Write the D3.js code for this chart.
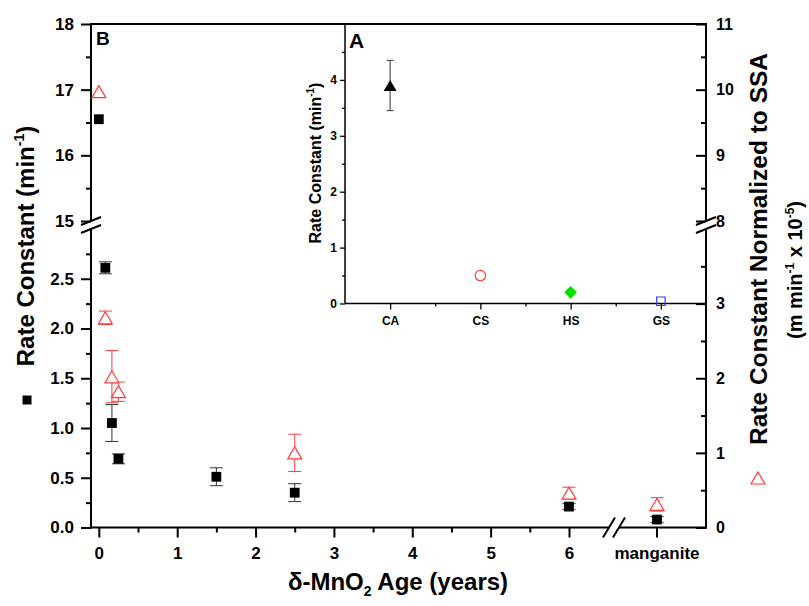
<!DOCTYPE html>
<html>
<head>
<meta charset="utf-8">
<script src="https://cdn.jsdelivr.net/npm/d3@7"></script>
<style>
  body { margin: 0; background: #fff; }
  svg { font-family: "Liberation Sans", Arial, sans-serif; font-weight: bold; }
</style>
</head>
<body>
<svg id="chart" width="809" height="606"></svg>
<script>
// Panel B: rate constant vs d-MnO2 age (last point is manganite)
const xKeys    = [0, 0.083, 0.167, 0.25, 1.5, 2.5, 6, "manganite"];
const rateVals = [16.55, 2.61, 1.05, 0.69, 0.51, 0.35, 0.21, 0.08];
const rateErr  = [0, 0.06, 0.185, 0.05, 0.09, 0.09, 0.03, 0.03];
// normalized to SSA (right axis), no value at 1.5 years
const normVals = [9.97, 2.81, 2.02, 1.82, null, 1.0, 0.46, 0.31];
const normErr  = [0, 0.09, 0.35, 0.13, null, 0.25, 0.08, 0.09];

// Panel A (inset)
const insetCats = ["CA", "CS", "HS", "GS"];
const insetVals = [3.9, 0.5, 0.2, 0.04];
const insetErr  = [0.45, 0, 0, 0];

// tick values
const leftHiMajor = [15, 16, 17, 18], leftHiMinor = [15.5, 16.5, 17.5];
const leftLoMajor = [0, 0.5, 1, 1.5, 2, 2.5], leftLoMinor = [0.25, 0.75, 1.25, 1.75, 2.25, 2.75];
const rightHiMajor = [8, 9, 10, 11], rightHiMinor = [8.5, 9.5, 10.5];
const rightLoMajor = [0, 1, 2, 3], rightLoMinor = [0.5, 1.5, 2.5, 3.5];
const ageMajor = [0, 1, 2, 3, 4, 5, 6], ageMinor = [0.5, 1.5, 2.5, 3.5, 4.5, 5.5];
const insetYMajor = [0, 1, 2, 3, 4], insetYMinor = [0.5, 1.5, 2.5, 3.5, 4.5];
const insetXMinor = [1.5, 2.5, 3.5];

const svg = d3.select("#chart");
const L = 91, R = 706, T = 24, B = 527.5;
const brkY1 = 221, brkY2 = 229;   // y-axis break
const brkX1 = 609, brkX2 = 619;   // x-axis break
const RED = "#ff3b3b";

// broken scales
const yLhi = d3.scaleLinear().domain([15, 18]).range([brkY1, T]);
const yLlo = d3.scaleLinear().domain([0, 3]).range([B, brkY2]);
const yRhi = d3.scaleLinear().domain([8, 11]).range([brkY1, T]);
const yRlo = d3.scaleLinear().domain([0, 4]).range([B, brkY2]);
const xA = d3.scaleLinear().domain([-0.1, 6.6]).range([L, 616]);
const xM = d3.scaleBand().domain(["manganite"]).range([brkX2, 695]);

const px = k => k === "manganite" ? xM(k) + xM.bandwidth() / 2 : xA(k);
const yL = v => v >= 15 ? yLhi(v) : yLlo(v);
const yR = v => v >= 8 ? yRhi(v) : yRlo(v);

// axis helper
function addAxis(axis, tx, ty, fsize, sw) {
  const g = svg.append("g")
    .attr("transform", `translate(${tx},${ty})`)
    .call(axis)
    .attr("font-family", null)
    .attr("font-size", fsize);
  g.select(".domain").remove();
  g.selectAll(".tick line").attr("stroke-width", sw);
  g.selectAll(".tick text").attr("fill", "#000");
  return g;
}

// left axis
addAxis(d3.axisLeft(yLhi).tickValues(leftHiMajor).tickSize(10).tickPadding(7).tickFormat(d3.format("d")), L, 0, 17, 2);
addAxis(d3.axisLeft(yLhi).tickValues(leftHiMinor).tickSize(5).tickFormat(""), L, 0, 17, 2);
addAxis(d3.axisLeft(yLlo).tickValues(leftLoMajor).tickSize(10).tickPadding(7).tickFormat(d3.format(".1f")), L, 0, 17, 2);
addAxis(d3.axisLeft(yLlo).tickValues(leftLoMinor).tickSize(5).tickFormat(""), L, 0, 17, 2);

// right axis (ticks inward)
addAxis(d3.axisRight(yRhi).tickValues(rightHiMajor).tickSize(-10).tickPadding(10).tickFormat(d3.format("d")), R, 0, 16, 2);
addAxis(d3.axisRight(yRhi).tickValues(rightHiMinor).tickSize(-5).tickFormat(""), R, 0, 16, 2);
addAxis(d3.axisRight(yRlo).tickValues(rightLoMajor).tickSize(-10).tickPadding(10).tickFormat(d3.format("d")), R, 0, 16, 2);
addAxis(d3.axisRight(yRlo).tickValues(rightLoMinor).tickSize(-5).tickFormat(""), R, 0, 16, 2);

// bottom axis
addAxis(d3.axisBottom(xA).tickValues(ageMajor).tickSize(10).tickPadding(9).tickFormat(d3.format("d")), 0, B, 17, 2);
addAxis(d3.axisBottom(xA).tickValues(ageMinor).tickSize(5).tickFormat(""), 0, B, 17, 2);
addAxis(d3.axisBottom(xM).tickSize(10).tickPadding(9), 0, B, 17, 2);

// frame with breaks
const frame = svg.append("g").attr("stroke", "#000").attr("stroke-width", 2).attr("fill", "none");
const seg = (x1, y1, x2, y2) => frame.append("line").attr("x1", x1).attr("y1", y1).attr("x2", x2).attr("y2", y2);
seg(L, T - 1, L, brkY1); seg(L, brkY2, L, B + 1);
seg(R, T - 1, R, brkY1); seg(R, brkY2, R, B + 1);
seg(L - 1, T, R + 1, T);
seg(L - 1, B, brkX1, B); seg(brkX2, B, R + 1, B);
[brkY1, brkY2].forEach(y => { seg(L - 10, y + 4, L + 10, y - 4); seg(R - 10, y + 4, R + 10, y - 4); });
[brkX1, brkX2].forEach(x => seg(x - 6, B + 10, x + 6, B - 10));

// error bars
function errBar(g, x, yTop, yBot, color, cap) {
  g.append("line").attr("x1", x).attr("x2", x).attr("y1", yTop).attr("y2", yBot).attr("stroke", color);
  [yTop, yBot].forEach(y => g.append("line").attr("x1", x - cap / 2).attr("x2", x + cap / 2)
    .attr("y1", y).attr("y2", y).attr("stroke", color));
}

// triangle centered on its bounding box
const triBox = {
  draw(ctx, size) {
    const w = Math.sqrt(size), h = w * 0.86;
    ctx.moveTo(0, -h / 2); ctx.lineTo(w / 2, h / 2); ctx.lineTo(-w / 2, h / 2); ctx.closePath();
  }
};
// square standing on a corner
const diamondSq = {
  draw(ctx, size) {
    const r = Math.sqrt(size / 2);
    ctx.moveTo(0, -r); ctx.lineTo(r, 0); ctx.lineTo(0, r); ctx.lineTo(-r, 0); ctx.closePath();
  }
};

const pts = svg.append("g");
const blackErr = pts.append("g").attr("stroke-width", 1);
xKeys.forEach((k, i) => {
  if (rateErr[i] > 0) errBar(blackErr, px(k), yL(rateVals[i] + rateErr[i]), yL(rateVals[i] - rateErr[i]), "#333", 13);
});
pts.append("g").selectAll("path").data(xKeys).join("path")
  .attr("transform", (k, i) => `translate(${px(k)},${yL(rateVals[i])})`)
  .attr("d", d3.symbol(d3.symbolSquare, 96))
  .attr("fill", "#000");

const redErr = pts.append("g").attr("stroke-width", 1);
xKeys.forEach((k, i) => {
  if (normVals[i] != null && normErr[i] > 0)
    errBar(redErr, px(k), yR(normVals[i] + normErr[i]), yR(normVals[i] - normErr[i]), RED, 13);
});
pts.append("g").selectAll("path").data(xKeys.filter((k, i) => normVals[i] != null)).join("path")
  .attr("transform", k => `translate(${px(k)},${yR(normVals[xKeys.indexOf(k)])})`)
  .attr("d", d3.symbol(triBox, 196))
  .attr("fill", "#fff").attr("stroke", RED).attr("stroke-width", 1.2);

// legend markers next to axis titles
svg.append("path").attr("transform", "translate(27,400)").attr("d", d3.symbol(d3.symbolSquare, 81)).attr("fill", "#000");
svg.append("path").attr("transform", "translate(758,478)").attr("d", d3.symbol(triBox, 196))
  .attr("fill", "none").attr("stroke", RED).attr("stroke-width", 1.2);

// axis titles
const lt = svg.append("text").attr("transform", "translate(26,246) rotate(-90)")
  .attr("text-anchor", "middle").attr("dy", "0.35em").attr("font-size", 24);
lt.append("tspan").text("Rate Constant (min");
lt.append("tspan").attr("font-size", 14).attr("dy", -10).text("-1");
lt.append("tspan").attr("dy", 10).text(")");

svg.append("text").attr("transform", "translate(758,249) rotate(-90)")
  .attr("text-anchor", "middle").attr("dy", "0.35em").attr("font-size", 24.5)
  .text("Rate Constant Normalized to SSA");
const rt = svg.append("text").attr("transform", "translate(795,270) rotate(-90)")
  .attr("text-anchor", "middle").attr("dy", "0.35em").attr("font-size", 20);
rt.append("tspan").text("(m min");
rt.append("tspan").attr("font-size", 12).attr("dy", -8).text("-1");
rt.append("tspan").attr("dy", 8).text(" x 10");
rt.append("tspan").attr("font-size", 12).attr("dy", -8).text("-5");
rt.append("tspan").attr("dy", 8).text(")");

const xt = svg.append("text").attr("x", 398).attr("y", 590).attr("text-anchor", "middle").attr("font-size", 24);
xt.append("tspan").text("δ-MnO");
xt.append("tspan").attr("font-size", 14).attr("dy", 6).text("2");
xt.append("tspan").attr("dy", -6).text(" Age (years)");

svg.append("text").attr("x", 96).attr("y", 45).attr("font-size", 19).text("B");

// ---- inset A ----
const IL = 345, IB = 303.5;
const xIn = d3.scaleLinear().domain([0.5, 4.5]).range([IL, R]);
const yIn = d3.scaleLinear().domain([0, 5]).range([IB, T]);

addAxis(d3.axisLeft(yIn).tickValues(insetYMajor).tickSize(5).tickPadding(3).tickFormat(d3.format("d")), IL, 0, 12, 1.3);
addAxis(d3.axisLeft(yIn).tickValues(insetYMinor).tickSize(3).tickFormat(""), IL, 0, 12, 1.3);
addAxis(d3.axisBottom(xIn).tickValues([1, 2, 3, 4]).tickSize(6).tickPadding(7).tickFormat(i => insetCats[i - 1]), 0, IB, 12, 1.3);
addAxis(d3.axisBottom(xIn).tickValues(insetXMinor).tickSize(3).tickFormat(""), 0, IB, 12, 1.3);

const ifr = svg.append("g").attr("stroke", "#000").attr("stroke-width", 1.5);
ifr.append("line").attr("x1", IL).attr("x2", IL).attr("y1", T).attr("y2", IB);
ifr.append("line").attr("x1", IL).attr("x2", R).attr("y1", IB).attr("y2", IB);

const ig = svg.append("g");
insetCats.forEach((c, i) => {
  if (insetErr[i] > 0) errBar(ig.append("g").attr("stroke-width", 1), xIn(i + 1),
    yIn(insetVals[i] + insetErr[i]), yIn(insetVals[i] - insetErr[i]), "#333", 7);
});
const insetStyle = {
  CA: { type: triBox, size: 169, fill: "#000", stroke: "none" },
  CS: { type: d3.symbolCircle, size: 85, fill: "none", stroke: RED },
  HS: { type: diamondSq, size: 80, fill: "#00e000", stroke: "none" },
  GS: { type: d3.symbolSquare, size: 72, fill: "none", stroke: "#3a3aff" }
};
ig.selectAll("path.sym").data(insetCats).join("path").attr("class", "sym")
  .attr("transform", (c, i) => `translate(${xIn(i + 1)},${yIn(insetVals[i])})`)
  .attr("d", c => d3.symbol(insetStyle[c].type, insetStyle[c].size)())
  .attr("fill", c => insetStyle[c].fill)
  .attr("stroke", c => insetStyle[c].stroke).attr("stroke-width", 1.2);

const it = svg.append("text").attr("transform", "translate(315,163) rotate(-90)")
  .attr("text-anchor", "middle").attr("dy", "0.35em").attr("font-size", 16);
it.append("tspan").text("Rate Constant (min");
it.append("tspan").attr("font-size", 10).attr("dy", -7).text("-1");
it.append("tspan").attr("dy", 7).text(")");

svg.append("text").attr("x", 349).attr("y", 48).attr("font-size", 21).text("A");
</script>
</body>
</html>
